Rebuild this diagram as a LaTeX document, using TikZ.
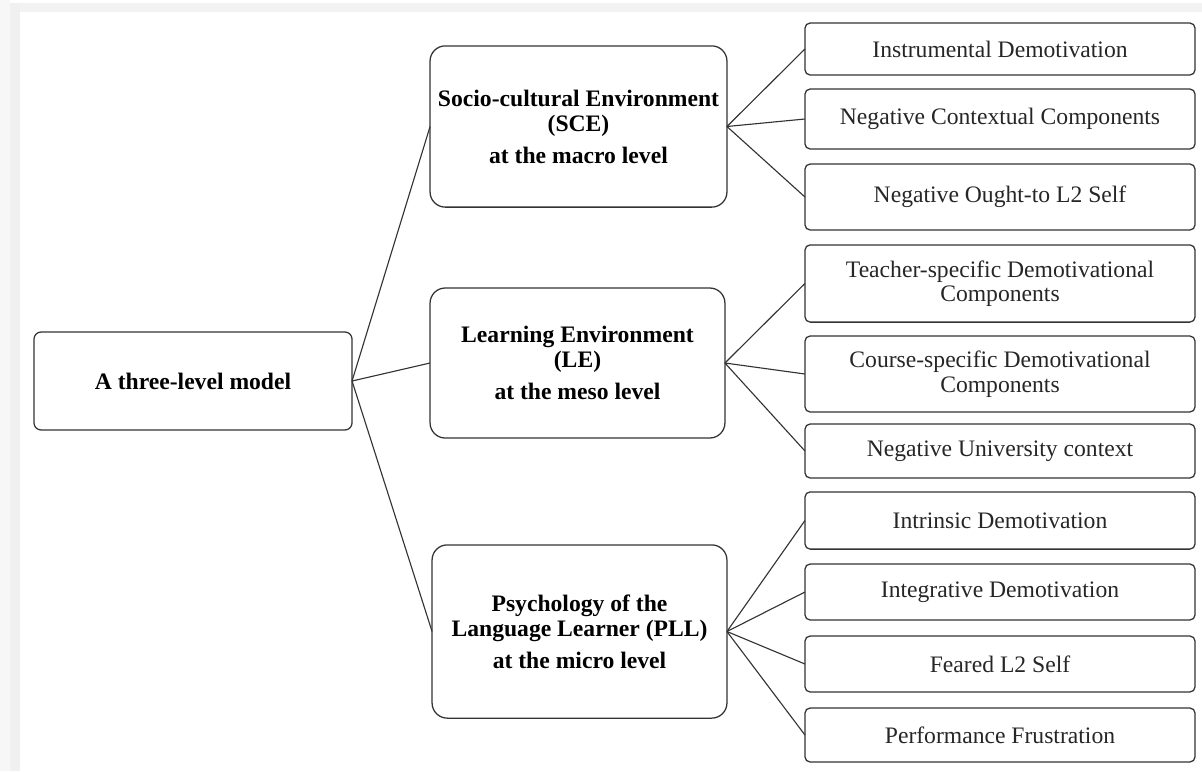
\documentclass[tikz,border=0pt]{standalone}
\usepackage{fontspec}
\setmainfont{Liberation Serif}
\usetikzlibrary{%
  calc
}
\tikzset{
  box/.style={draw=black!80, line width=0.9pt, align=center,
    inner sep=0pt, outer sep=0pt, text=black!85,
    font=\fontsize{16.8}{17.5}\selectfont},
  levelbox/.style={box, rounded corners=0.38cm, text=black,
    font=\fontsize{16.8}{17.8}\selectfont\bfseries},
  rootbox/.style={box, rounded corners=0.18cm, text=black,
    font=\fontsize{16.8}{17.8}\selectfont\bfseries},
  itembox/.style={box, rounded corners=0.13cm,
    minimum width=9.75cm},
  link/.style={draw=black!80, line width=0.8pt}
}

\begin{document}
\begin{tikzpicture}[x=0.025cm,y=-0.025cm]

  \useasboundingbox (0,0) rectangle (1202,771);
  % grey page edge
  \fill[black!3] (0,0) rectangle (10,771);
  \fill[black!6] (10,3) rectangle (20,771);
  \fill[black!5] (20,3) rectangle (1202,12);

  \node[rootbox, minimum width=7.95cm, minimum height=2.45cm]
    (root) at (193,381) {A three-level model};

  \node[levelbox, minimum width=7.42cm, minimum height=4.03cm]
    (sce) at (578.5,126.5) {Socio-cultural Environment\\(SCE)\\[5pt]at the macro level};
  \node[levelbox, minimum width=7.37cm, minimum height=3.75cm]
    (le) at (577.5,363) {Learning Environment\\(LE)\\[5pt]at the meso level};
  \node[levelbox, minimum width=7.37cm, minimum height=4.33cm]
    (pll) at (579.5,631.5) {Psychology of the\\Language Learner (PLL)\\[5pt]at the micro level};

  \node[itembox, minimum height=1.30cm] (instr) at (1000,49) {Instrumental Demotivation};
  \node[itembox, minimum height=1.50cm] (context) at (1000,119) {Negative Contextual Components};
  \node[itembox, minimum height=1.65cm] (ought) at (1000,197) {Negative Ought-to L2 Self};

  \node[itembox, minimum height=1.93cm] (teacher) at (1000,283.5) {Teacher-specific Demotivational\\Components};
  \node[itembox, minimum height=1.90cm] (course) at (1000,374) {Course-specific Demotivational\\Components};
  \node[itembox, minimum height=1.35cm] (univ) at (1000,451) {Negative University context};

  \node[itembox, minimum height=1.43cm] (intrinsic) at (1000,520.5) {Intrinsic Demotivation};
  \node[itembox, minimum height=1.40cm] (integr) at (1000,592) {Integrative Demotivation};
  \node[itembox, minimum height=1.40cm] (feared) at (1000,664) {Feared L2 Self};
  \node[itembox, minimum height=1.35cm] (perform) at (1000,735) {Performance Frustration};

  \foreach \lv in {sce,le,pll}
    \draw[link] (root.east) -- (\lv.west);

  \foreach \it in {instr,context,ought}
    \draw[link] (sce.east) -- (\it.west);
  \foreach \it in {teacher,course,univ}
    \draw[link] (le.east) -- (\it.west);
  \foreach \it in {intrinsic,integr,feared,perform}
    \draw[link] (pll.east) -- (\it.west);

\end{tikzpicture}
\end{document}
